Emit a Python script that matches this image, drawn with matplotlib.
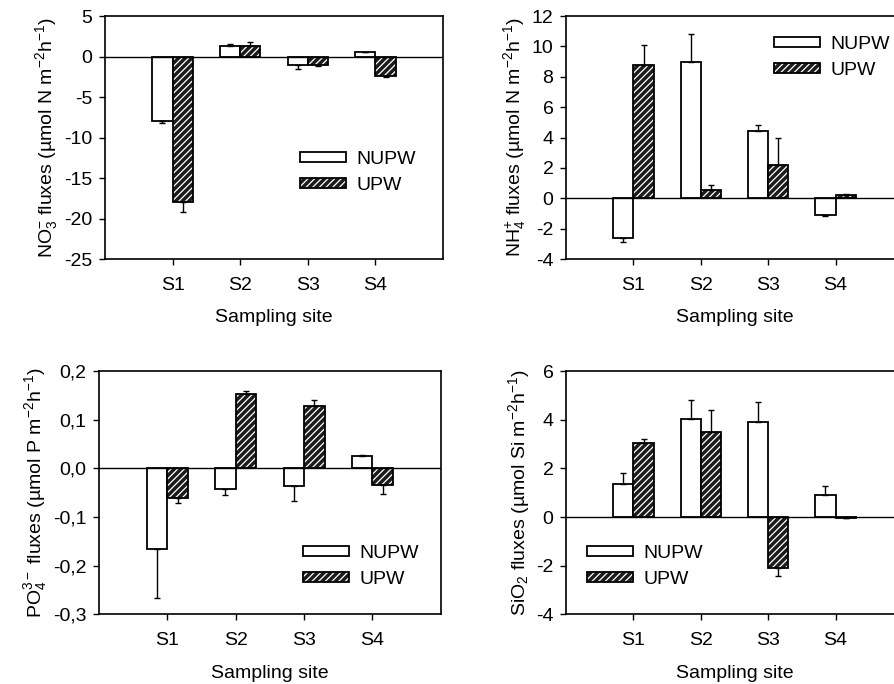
import numpy as np
import matplotlib
matplotlib.use("Agg")
import matplotlib.pyplot as plt
from matplotlib.patches import Patch
from matplotlib.legend_handler import HandlerTuple
from matplotlib.ticker import FuncFormatter, MultipleLocator

plt.rcParams['font.family'] = ['Liberation Sans', 'DejaVu Sans']
plt.rcParams['mathtext.fontset'] = 'custom'
plt.rcParams['mathtext.rm'] = 'Liberation Sans'
plt.rcParams['mathtext.it'] = 'Liberation Sans'
plt.rcParams['mathtext.bf'] = 'Liberation Sans:bold'
plt.rcParams['axes.unicode_minus'] = False
plt.rcParams['hatch.linewidth'] = 0.9

sites = ["S1", "S2", "S3", "S4"]
series = ["NUPW", "UPW"]

# NO3- fluxes
no3_nupw = [-7.9, 1.3, -1.0, 0.5]
no3_nupw_err = [0.3, 0.3, 0.6, 0.1]
no3_upw = [-18.0, 1.3, -1.0, -2.4]
no3_upw_err = [1.2, 0.5, 0.2, 0.1]

# NH4+ fluxes
nh4_nupw = [-2.6, 9.0, 4.4, -1.1]
nh4_nupw_err = [0.3, 1.8, 0.4, 0.07]
nh4_upw = [8.8, 0.55, 2.2, 0.2]
nh4_upw_err = [1.3, 0.35, 1.75, 0.09]

# PO4 3- fluxes
po4_nupw = [-0.165, -0.042, -0.036, 0.026]
po4_nupw_err = [0.102, 0.013, 0.031, 0.002]
po4_upw = [-0.061, 0.154, 0.129, -0.034]
po4_upw_err = [0.009, 0.005, 0.011, 0.019]

# SiO2 fluxes
si_nupw = [1.35, 4.02, 3.91, 0.91]
si_nupw_err = [0.47, 0.8, 0.84, 0.37]
si_upw = [3.03, 3.5, -2.09, -0.05]
si_upw_err = [0.2, 0.9, 0.33, 0.0]

FS = 14
fig = plt.figure(figsize=(8.95, 6.84), dpi=100)


def one_sided(vals, errs):
    vals = np.asarray(vals)
    errs = np.asarray(errs)
    lower = np.where(vals < 0, errs, 0)
    upper = np.where(vals >= 0, errs, 0)
    return [lower, upper]


def panel(rect, nupw, nupw_err, upw, upw_err, ylim, ystep, ylabel,
          leg_xy, fmt=None):
    ax = fig.add_axes(rect)
    x = np.arange(1, len(sites) + 1)
    w = 0.3
    ax.bar(x - w / 2, nupw, w, color="white", edgecolor="black",
           linewidth=1.3, zorder=2)
    ax.bar(x + w / 2, upw, w, color="#1c1c1c", edgecolor="white",
           hatch="/////", linewidth=0, zorder=2)
    ax.bar(x + w / 2, upw, w, fill=False, edgecolor="black",
           linewidth=1.3, zorder=3)
    ax.errorbar(x - w / 2, nupw, yerr=one_sided(nupw, nupw_err), fmt="none",
                ecolor="black", elinewidth=1.0, capsize=2.5, capthick=1.0,
                zorder=4)
    ax.errorbar(x + w / 2, upw, yerr=one_sided(upw, upw_err), fmt="none",
                ecolor="black", elinewidth=1.0, capsize=2.5, capthick=1.0,
                zorder=4)
    ax.axhline(0, color="black", linewidth=1.0, zorder=3)

    ax.set_xlim(0, 5)
    ax.set_ylim(*ylim)
    ax.set_xticks(x)
    ax.set_xticklabels(sites)
    ax.yaxis.set_major_locator(MultipleLocator(ystep))
    if fmt is not None:
        ax.yaxis.set_major_formatter(FuncFormatter(fmt))
    ax.tick_params(axis="both", direction="out", length=4, width=1.0,
                   labelsize=FS)
    ax.tick_params(axis="x", pad=9)
    ax.tick_params(axis="y", pad=5)
    for s in ax.spines.values():
        s.set_linewidth(1.2)
    ax.set_xlabel("Sampling site", fontsize=FS, labelpad=11)
    ax.set_ylabel(ylabel, fontsize=FS, labelpad=3)

    h_n = Patch(facecolor="white", edgecolor="black", linewidth=1.3)
    h_u = (Patch(facecolor="#1c1c1c", edgecolor="white", hatch="/////",
                 linewidth=0),
           Patch(fill=False, edgecolor="black", linewidth=1.3))
    ax.legend([h_n, h_u], series, loc="center left", bbox_to_anchor=leg_xy,
              frameon=False, fontsize=FS, borderpad=0, borderaxespad=0,
              handlelength=2.35, handleheight=0.42, handletextpad=0.55,
              labelspacing=0.45,
              handler_map={tuple: HandlerTuple(ndivide=1, pad=0)})
    return ax


def comma(v, pos):
    return f"{v:.1f}".replace(".", ",")


panel([0.1173, 0.6213, 0.3777, 0.3553], no3_nupw, no3_nupw_err,
      no3_upw, no3_upw_err, (-25, 5), 5,
      r"NO$_3^{-}$ fluxes (µmol N m$^{-2}$h$^{-1}$)", (0.577, 0.355))

panel([0.6324, 0.6213, 0.3765, 0.3553], nh4_nupw, nh4_nupw_err,
      nh4_upw, nh4_upw_err, (-4, 12), 2,
      r"NH$_4^{+}$ fluxes (µmol N m$^{-2}$h$^{-1}$)", (0.617, 0.83))

panel([0.1106, 0.1019, 0.3818, 0.3553], po4_nupw, po4_nupw_err,
      po4_upw, po4_upw_err, (-0.3, 0.2), 0.1,
      r"PO$_4^{3-}$ fluxes (µmol P m$^{-2}$h$^{-1}$)", (0.597, 0.198),
      fmt=comma)

panel([0.6324, 0.1019, 0.3765, 0.3553], si_nupw, si_nupw_err,
      si_upw, si_upw_err, (-4, 6), 2,
      r"SiO$_2$ fluxes (µmol Si m$^{-2}$h$^{-1}$)", (0.062, 0.196))

fig.savefig("out.png", dpi=100)
